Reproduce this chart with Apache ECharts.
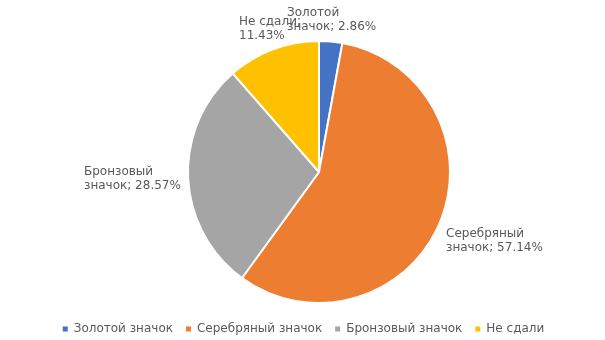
<!DOCTYPE html>
<html><head><meta charset="utf-8">
<script src="https://cdn.jsdelivr.net/npm/echarts@6/dist/echarts.min.js"></script>
<style>html,body{margin:0;padding:0;background:#fff}#c{width:605px;height:340px}</style>
</head><body><div id="c"></div>
<script>
const categories = ['Золотой значок', 'Серебряный значок', 'Бронзовый значок', 'Не сдали'];
const values = [1, 20, 10, 4];
const colors = ['#4472C4', '#ED7D31', '#A5A5A5', '#FFC000'];
const labelPos = [[287, 6], [446, 227], [84, 165], [239, 15]];

function labelText(p) {
  const pct = p.percent.toFixed(2) + '%';
  const words = p.name.split(' ');
  if (words.length > 1 && words[words.length - 1] === 'значок') {
    return words.slice(0, -1).join(' ') + '\n' + words[words.length - 1] + '; ' + pct;
  }
  return p.name + ';\n' + pct;
}

const chart = echarts.init(document.getElementById('c'), null, {renderer: 'canvas'});
chart.setOption({
  animation: false,
  color: colors,
  textStyle: {fontFamily: 'DejaVu Sans'},
  legend: {
    bottom: 0,
    left: 'center',
    itemWidth: 7, itemHeight: 7, itemGap: 11,
    icon: 'rect',
    textStyle: {color: '#595959', fontSize: 12, fontFamily: 'DejaVu Sans'},
    data: categories
  },
  series: [{
    type: 'pie',
    center: [319, 172],
    radius: 131,
    startAngle: 90,
    clockwise: true,
    percentPrecision: 2,
    itemStyle: {borderColor: '#fff', borderWidth: 2},
    label: {
      show: true,
      position: 'outside',
      color: '#595959',
      fontSize: 12,
      lineHeight: 14,
      fontFamily: 'DejaVu Sans',
      formatter: labelText
    },
    labelLine: {show: false},
    labelLayout: p => ({x: labelPos[p.dataIndex][0], y: labelPos[p.dataIndex][1], align: 'left', verticalAlign: 'top'}),
    data: categories.map((n, i) => ({name: n, value: values[i]}))
  }]
});
</script></body></html>
